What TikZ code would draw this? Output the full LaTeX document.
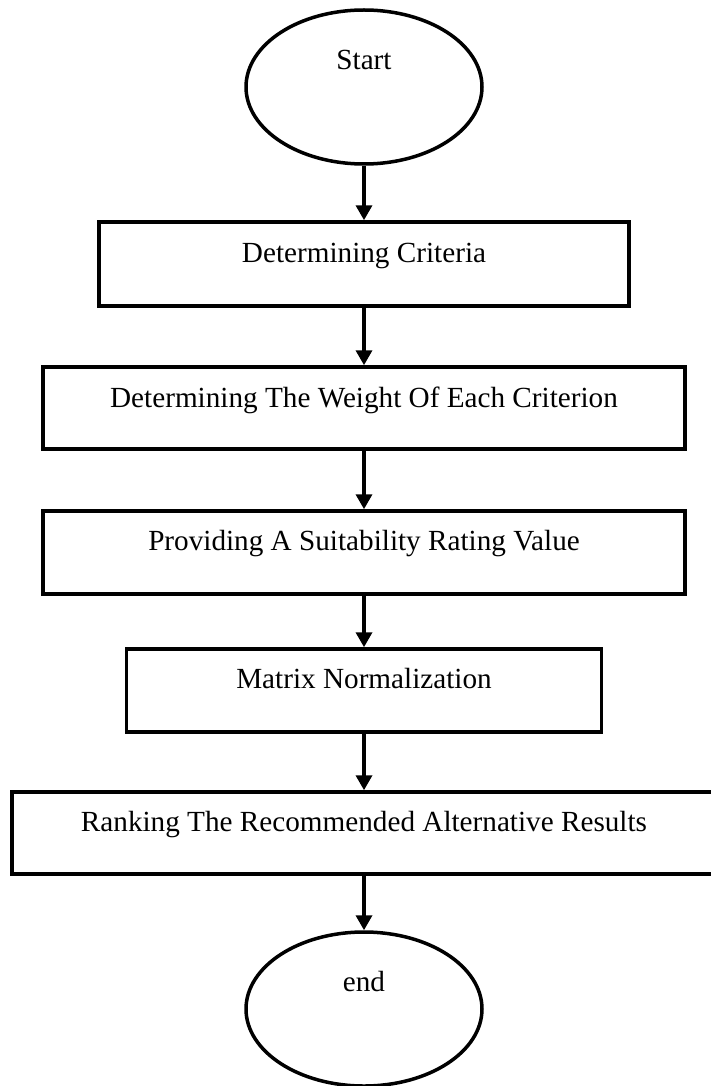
\documentclass[tikz,border=0pt]{standalone}
\usepackage{fontspec}
\setmainfont{Liberation Serif}
\usetikzlibrary{shapes.geometric,arrows.meta}
\begin{document}
\begin{tikzpicture}[x=1pt,y=-1pt,
  term/.style={draw,ellipse,line width=3.5pt,minimum width=236pt,minimum height=154pt,inner sep=0pt},
  stepbox/.style={draw,rectangle,line width=3.5pt,inner sep=0pt,font=\fontsize{29.2}{34}\selectfont},
  lbl/.style={font=\fontsize{29.2}{34}\selectfont,anchor=base,inner sep=0pt},
  flow/.style={line width=3.5pt,-{Triangle[width=16pt,length=15pt]}}]
\useasboundingbox (0,0) rectangle (710,1086);
\node[term] (start) at (364,87) {};
\node[lbl] (startt) at ([yshift=-61pt]start.north) {Start};
\node[stepbox,minimum width=530pt,text height=40pt,text depth=44pt] (b1) at (364,264) {Determining Criteria};
\node[stepbox,minimum width=642pt,text height=40pt,text depth=42pt] (b2) at (364,408) {Determining The Weight Of Each Criterion};
\node[stepbox,minimum width=642pt,text height=39pt,text depth=44pt] (b3) at (364,552.5) {Providing A Suitability Rating Value};
\node[stepbox,minimum width=475pt,text height=39pt,text depth=44pt] (b4) at (364,690.5) {Matrix Normalization};
\node[stepbox,minimum width=704pt,text height=39pt,text depth=43pt] (b5) at (364,833) {Ranking The Recommended Alternative Results};
\node[term] (end) at (364,1009) {};
\node[lbl] (endt) at ([yshift=-61pt]end.north) {end};
\draw[flow] (start.south) -- (b1.north);
\draw[flow] (b1.south) -- (b2.north);
\draw[flow] (b2.south) -- (b3.north);
\draw[flow] (b3.south) -- (b4.north);
\draw[flow] (b4.south) -- (b5.north);
\draw[flow] (b5.south) -- (end.north);
\end{tikzpicture}
\end{document}
